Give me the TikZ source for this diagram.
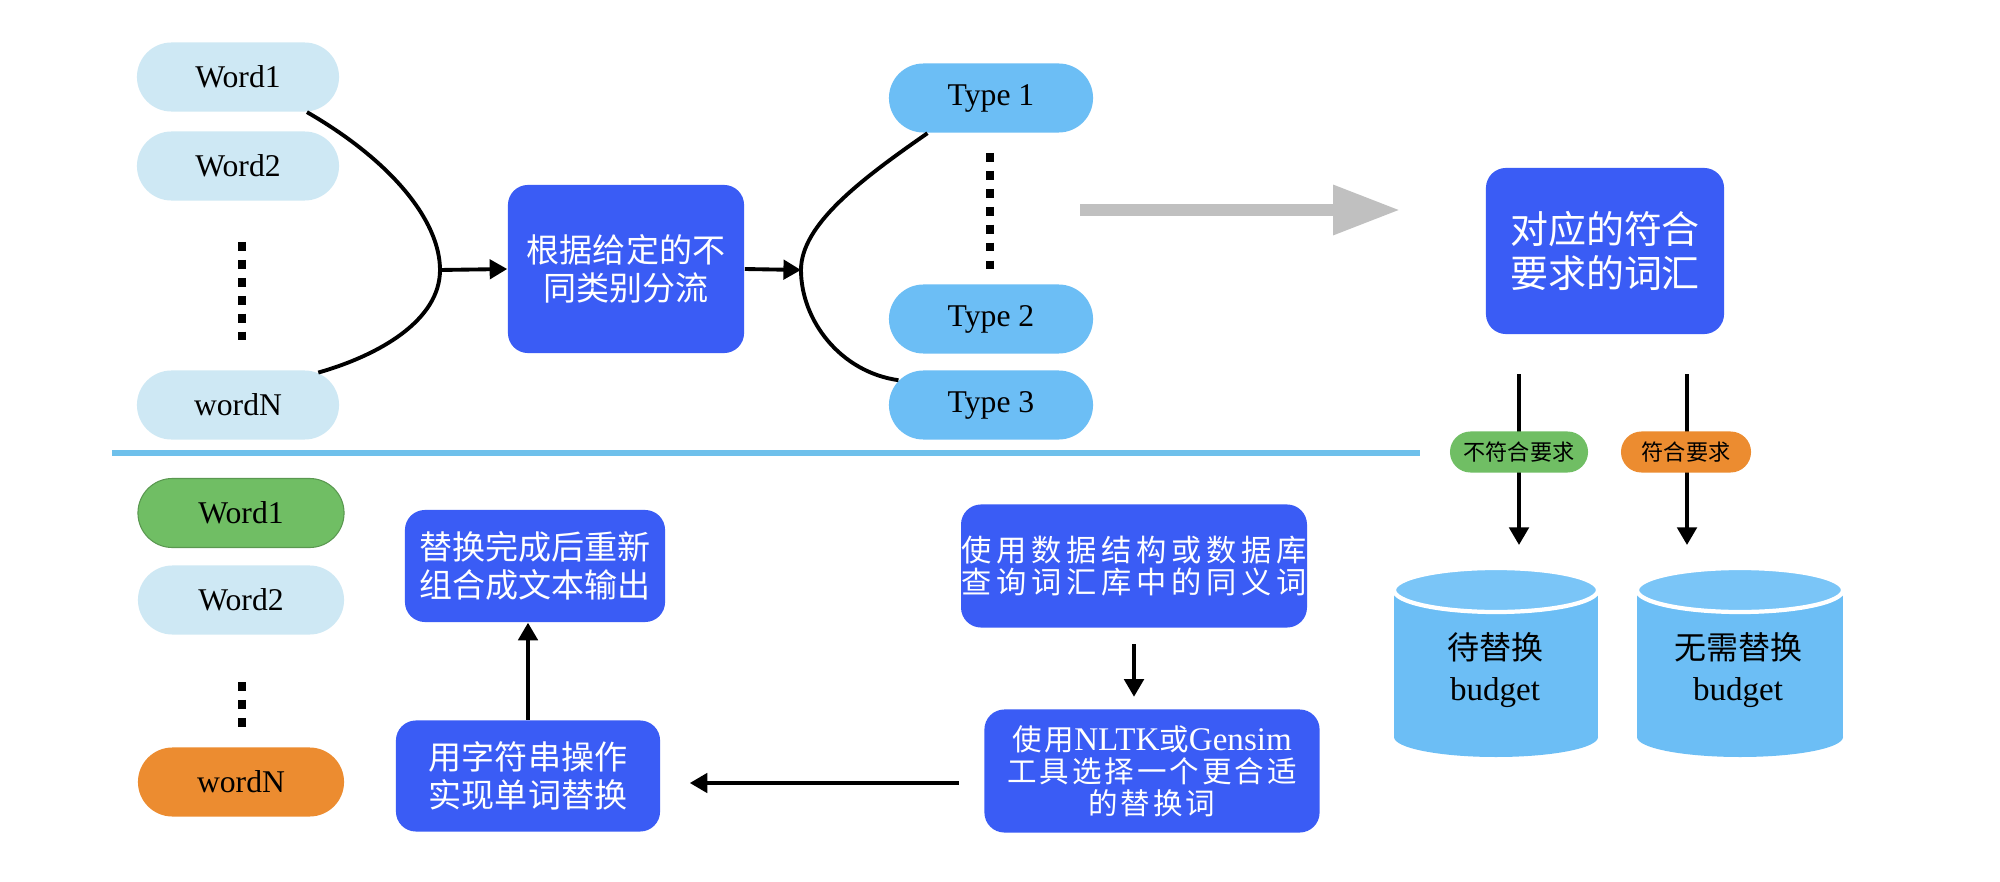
\documentclass[tikz,border=0pt]{standalone}
\usepackage{fontspec}
\setmainfont{Liberation Serif}
\newfontfamily\cjk{Noto Sans CJK SC}
\newfontfamily\cjkwideA[LetterSpace=16]{Noto Sans CJK SC}
\newfontfamily\cjkwideB[LetterSpace=10]{Noto Sans CJK SC}
\usetikzlibrary{shapes.misc,arrows.meta,calc}
\definecolor{wordlight}{RGB}{206,232,244}
\definecolor{typeblue}{RGB}{108,190,245}
\definecolor{boxblue}{RGB}{58,92,245}
\definecolor{goodgreen}{RGB}{112,190,100}
\definecolor{warnorange}{RGB}{236,140,48}
\definecolor{lineblue}{RGB}{110,192,235}
\definecolor{arrowgray}{RGB}{192,192,192}
\definecolor{cyltop}{RGB}{122,197,247}
\begin{document}
\begin{tikzpicture}[x=0.01cm,y=-0.01cm,
  pill/.style={rounded rectangle, minimum width=2.02cm, minimum height=0.69cm, inner sep=0pt, font=\fontsize{9}{10}\selectfont},
  wordpill/.style={pill, fill=wordlight},
  typepill/.style={pill, fill=typeblue, minimum width=2.04cm},
  bluebox/.style={rectangle, rounded corners=0.2cm, fill=boxblue, text=white, align=center, inner sep=0pt, font=\cjk\fontsize{9.4}{11}\selectfont},
  arr/.style={line width=1.1pt, -{Triangle[length=5pt,width=5.5pt]}},
  curveline/.style={line width=1.1pt},
  dotcol/.style={line width=2.4pt, dash pattern=on 2.5pt off 2.6pt},
  tag/.style={rounded rectangle, inner sep=0pt, minimum height=0.41cm, font=\cjk\fontsize{6.3}{7}\selectfont},
  cyltext/.style={align=center, inner sep=0pt, font=\fontsize{9.4}{11.5}\selectfont},
]
\useasboundingbox (0,0) rectangle (2000,882);
\fill[white] (0,0) rectangle (2000,882);

% ---------- top part ----------
\node[wordpill] (w1) at (238,77) {Word1};
\node[wordpill] (w2) at (238,166) {Word2};
\node[wordpill] (wN) at (238,405) {wordN};
\draw[dotcol] (242,242) -- (242,342);

\node[bluebox, minimum width=2.36cm, minimum height=1.68cm] (b1) at (626,269) {根据给定的不\\同类别分流};

\coordinate (apexL) at (440,270);
\draw[curveline] (w1.-27) .. controls (390,160) and (440,220) .. (apexL)
                          .. controls (440,320) and (380,355) .. (wN.22);
\draw[arr] (apexL) -- (b1.west);

\node[typepill] (t1) at (991,98) {Type 1};
\node[typepill] (t2) at (991,319) {Type 2};
\node[typepill] (t3) at (991,405) {Type 3};
\draw[dotcol] (990,153) -- (990,272);

\coordinate (apexR) at (801,270);
\draw[arr] (b1.east) -- (apexR);
\draw[curveline] (t1.209) .. controls (860,180) and (801,225) .. (apexR)
                          .. controls (801,320) and (840,372) .. (t3.165);

\coordinate (ga) at (1080,210);
\coordinate (gb) at (1400,210);
\draw[arrowgray, line width=3.4pt, -{Triangle[length=19pt,width=13.4pt]}] (ga) -- (gb);

\node[bluebox, minimum width=2.38cm, minimum height=1.66cm, font=\cjk\fontsize{10.8}{12.5}\selectfont] (dy) at (1605,251) {对应的符合\\要求的词汇};

% divider
\coordinate (dva) at (112,453);
\coordinate (dvb) at (1420,453);
\draw[lineblue, line width=1.7pt] (dva) -- (dvb);

% right branch
\coordinate (d1a) at (1519,374);
\coordinate (d1b) at (1519,545);
\coordinate (d2a) at (1687,374);
\coordinate (d2b) at (1687,545);
\draw[arr] (d1a) -- (d1b);
\draw[arr] (d2a) -- (d2b);
\node[tag, fill=goodgreen, minimum width=1.38cm] (lab1) at (1519,452) {不符合要求};
\node[tag, fill=warnorange, minimum width=1.30cm] (lab2) at (1686,452) {符合要求};

% cylinders
\fill[typeblue] (1394,590) rectangle (1598,737);
\fill[typeblue] (1496,737) ellipse [x radius=102, y radius=20];
\filldraw[fill=cyltop, draw=white, line width=1.2pt] (1496,590) ellipse [x radius=102, y radius=22];
\node[cyltext] (c1) at (1495,670) {{\cjk\fontsize{9.1}{11.5}\selectfont 待替换}\\budget};

\fill[typeblue] (1637,590) rectangle (1843,737);
\fill[typeblue] (1740,737) ellipse [x radius=103, y radius=20];
\filldraw[fill=cyltop, draw=white, line width=1.2pt] (1740,590) ellipse [x radius=103, y radius=22];
\node[cyltext] (c2) at (1738,670) {{\cjk\fontsize{9.1}{11.5}\selectfont 无需替换}\\budget};

% ---------- bottom part ----------
\node[pill, fill=goodgreen, draw=goodgreen!80!black, line width=0.3pt, minimum width=2.06cm] (v1) at (241,513) {Word1};
\node[pill, fill=wordlight, minimum width=2.06cm] (v2) at (241,600) {Word2};
\draw[dotcol] (242,682) -- (242,727);
\node[pill, fill=warnorange, minimum width=2.06cm] (vN) at (241,782) {wordN};

\node[bluebox, minimum width=2.60cm, minimum height=1.12cm] (r1) at (535,566) {替换完成后重新\\组合成文本输出};
\node[bluebox, minimum width=2.64cm, minimum height=1.11cm] (r2) at (528,776) {用字符串操作\\实现单词替换};
\draw[arr] (r2.north) -- (r2.north |- r1.south);

\node[bluebox, minimum width=3.35cm, minimum height=1.23cm, font=\cjkwideA\fontsize{8.6}{9.2}\selectfont] (s1) at (1134,566) {使用数据结构或数据库\\查询词汇库中的同义词};
\node[bluebox, minimum width=3.35cm, minimum height=1.23cm, font=\cjkwideB\fontsize{8.4}{9.1}\selectfont] (s2) at (1152,771) {使用{\rmfamily\fontsize{9.4}{9.1}\selectfont NLTK}或{\rmfamily\fontsize{9.4}{9.1}\selectfont Gensim}\\工具选择一个更合适\\的替换词};
\draw[arr, shorten <=0.16cm, shorten >=0.12cm] (s1.south) -- (s1.south |- s2.north);
\draw[arr, shorten <=0.25cm, shorten >=0.29cm] ($(s2.west)+(0,12)$) -- ($(s2.west -| r2.east)+(0,12)$);
\end{tikzpicture}
\end{document}
